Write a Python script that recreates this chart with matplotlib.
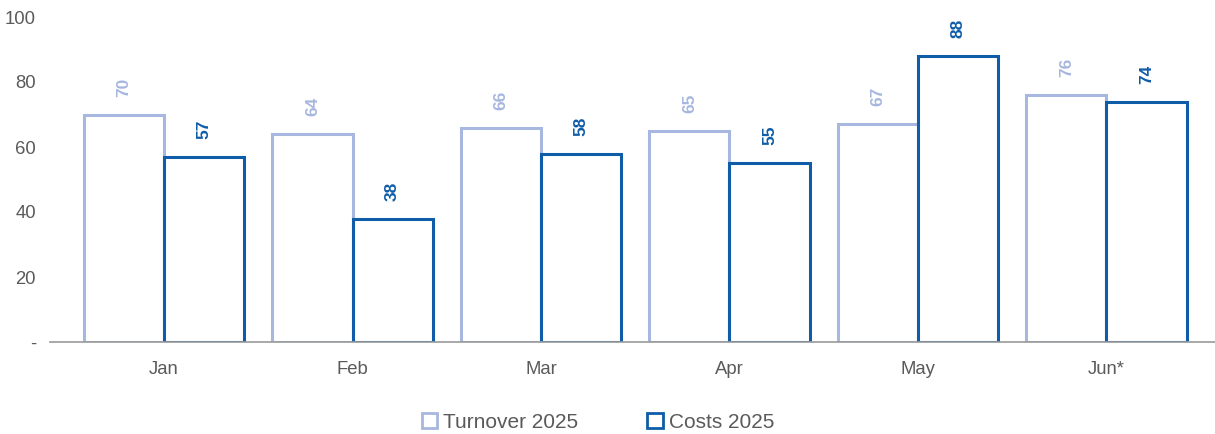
import matplotlib
matplotlib.use('Agg')
import matplotlib.pyplot as plt
import numpy as np
from matplotlib.patches import Patch

plt.rcParams['font.family'] = ['Liberation Sans', 'DejaVu Sans']

months = ['Jan', 'Feb', 'Mar', 'Apr', 'May', 'Jun*']
turnover = [70, 64, 66, 65, 67, 76]
costs = [57, 38, 58, 55, 88, 74]
yticks = [0, 20, 40, 60, 80, 100]
ytick_labels = ['-', '20', '40', '60', '80', '100']

light = '#a7b7df'
dark = '#0f5ca8'
grey = '#5a5a5a'

fig = plt.figure(figsize=(12.15, 4.34), dpi=100)
ax = fig.add_axes([50 / 1215, 92 / 434, 1165 / 1215, 325 / 434])

x = np.arange(len(months))
w = 0.425
ax.bar(x - w / 2, turnover, w, facecolor='white', edgecolor=light, linewidth=2.2)
ax.bar(x + w / 2, costs, w, facecolor='white', edgecolor=dark, linewidth=2.2)

# value labels, rotated, above each bar
for i in range(len(months)):
    ax.text(x[i] - w / 2, turnover[i] + 5.5, str(turnover[i]), rotation=90,
            ha='center', va='bottom', color=light, fontsize=12.5, fontweight='bold')
    ax.text(x[i] + w / 2, costs[i] + 5.5, str(costs[i]), rotation=90,
            ha='center', va='bottom', color=dark, fontsize=12.5, fontweight='bold')

ax.set_xlim(-0.605, 5.576)
ax.set_ylim(0, 100)
ax.set_yticks(yticks)
ax.set_yticklabels(ytick_labels)
ax.set_xticks(x)
ax.set_xticklabels(months)
ax.tick_params(axis='both', length=0, colors=grey, labelsize=13.3)
ax.tick_params(axis='x', pad=14)
ax.tick_params(axis='y', pad=10)
for s in ['top', 'right', 'left']:
    ax.spines[s].set_visible(False)
ax.spines['bottom'].set_color('#999999')
ax.spines['bottom'].set_linewidth(1.2)

handles = [Patch(facecolor='white', edgecolor=light, linewidth=2, label='Turnover 2025'),
           Patch(facecolor='white', edgecolor=dark, linewidth=2, label='Costs 2025')]
fig.legend(handles=handles, loc='center', bbox_to_anchor=(598 / 1215, 1 - 422 / 434),
           ncol=2, frameon=False, fontsize=15, handlelength=0.75, handleheight=0.75,
           handletextpad=0.3, columnspacing=3.3, labelcolor=grey)

fig.savefig('out.png', dpi=100)
